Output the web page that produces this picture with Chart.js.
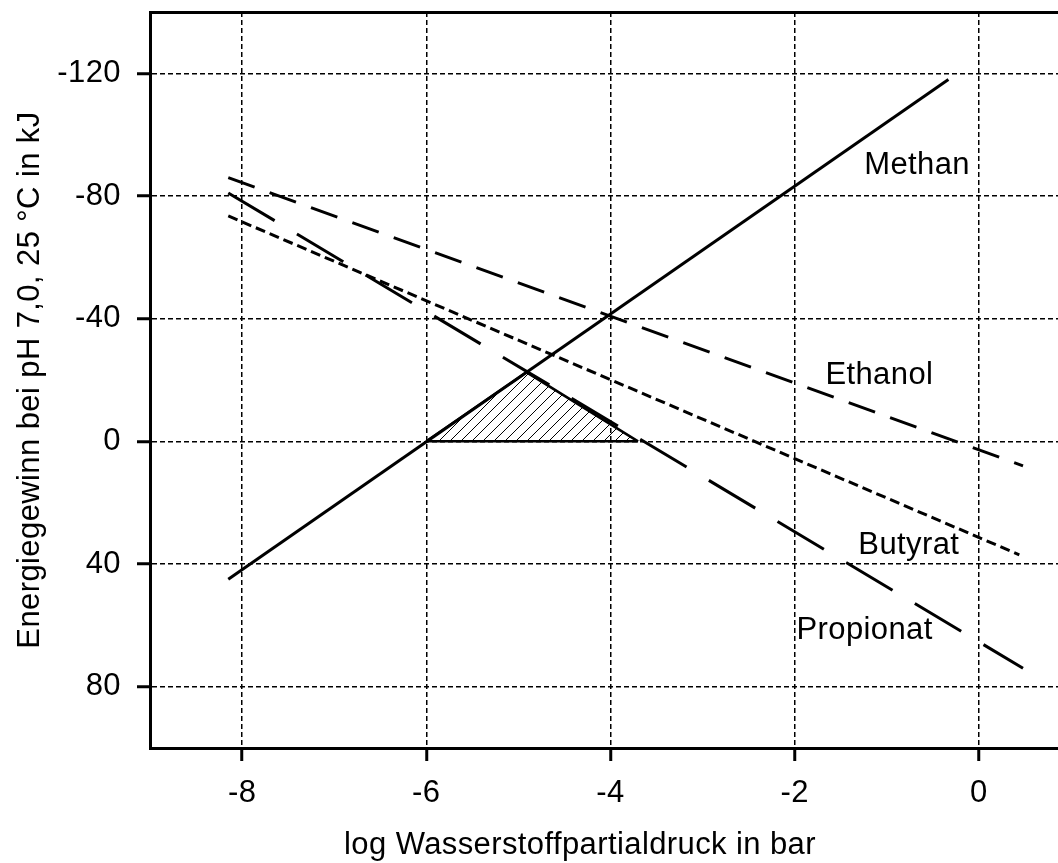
<!DOCTYPE html>
<html>
<head>
<meta charset="utf-8">
<script src="https://cdn.jsdelivr.net/npm/chart.js@4/dist/chart.umd.min.js"></script>
<style>
    html, body { margin: 0; padding: 0; background: #fff; }
    canvas { display: block; }
</style>
</head>
<body>
<canvas id="energyChart" width="1058" height="863"></canvas>
<script>
// x: log H2 partial pressure (bar), y: energy gain (kJ), start and end of each line
const methanX = [-8.15, -0.33];
const methanY = [45, -118];
const ethanolX = [-8.15, 0.48];
const ethanolY = [-86, 8];
const butyratX = [-8.15, 0.44];
const butyratY = [-73.5, 37];
const propionatX = [-8.15, 0.48];
const propionatY = [-81, 74];

// hatched window (methane + propionate both exergonic)
const windowX = [-6, -4.91, -3.7];
const windowY = [0, -22.5, 0];
const windowBaseX = [-6, -3.7];
const windowBaseY = [0, 0];

const xTicks = [-8, -6, -4, -2, 0];
const yTicks = [-120, -80, -40, 0, 40, 80];

const curveLabels = ['Methan', 'Ethanol', 'Butyrat', 'Propionat'];
const curveLabelX = [-0.67, -1.08, -0.76, -1.24];
const curveLabelY = [-89.8, -21.5, 33.8, 61.7];

const xTitle = 'log Wasserstoffpartialdruck in bar';
const yTitle = 'Energiegewinn bei pH 7,0, 25 °C in kJ';

const fontFamily = '"Liberation Sans", Arial, sans-serif';
const fontSize = 31;

function toPoints(xs, ys) {
    return xs.map((x, i) => ({ x: x, y: ys[i] }));
}

function hatchPattern() {
    const s = 11;
    const tile = document.createElement('canvas');
    tile.width = s;
    tile.height = s;
    const c = tile.getContext('2d');
    c.strokeStyle = '#000';
    c.lineWidth = 1;
    c.beginPath();
    c.moveTo(0, s); c.lineTo(s, 0);
    c.moveTo(-1, 1); c.lineTo(1, -1);
    c.moveTo(s - 1, s + 1); c.lineTo(s + 1, s - 1);
    c.stroke();
    return c.createPattern(tile, 'repeat');
}

function lineDataset(label, xs, ys, dash, width) {
    return {
        label,
        data: toPoints(xs, ys),
        borderColor: '#000',
        borderWidth: width || 3,
        borderDash: dash,
        pointRadius: 0,
        fill: false,
        tension: 0
    };
}

// the reference text runs a little wider than Liberation Sans
const letterSpacingPlugin = {
    id: 'letterSpacing',
    beforeDraw(chart) {
        chart.ctx.letterSpacing = '0.4px';
    }
};

const curveLabelPlugin = {
    id: 'curveLabels',
    afterDatasetsDraw(chart) {
        const { ctx, scales: { x, y } } = chart;
        ctx.save();
        ctx.font = fontSize + 'px ' + fontFamily;
        ctx.fillStyle = '#000';
        ctx.textAlign = 'center';
        ctx.textBaseline = 'middle';
        curveLabels.forEach((text, i) => {
            ctx.fillText(text, x.getPixelForValue(curveLabelX[i]), y.getPixelForValue(curveLabelY[i]));
        });
        // x title sits a bit left of the plot centre in the original
        const area = chart.chartArea;
        ctx.fillText(xTitle, (area.left + area.right) / 2 - 24, chart.height - 18);
        ctx.restore();
    }
};

const gridStyle = {
    color: '#000',
    lineWidth: 1.5,
    tickLength: 13,
    tickWidth: 3,
    tickColor: '#000',
    tickBorderDash: []
};
const borderStyle = { display: true, color: '#000', width: 3, dash: [5, 3] };
const tickFont = { family: fontFamily, size: fontSize };

const windowDataset = lineDataset('Fenster', windowX, windowY, [], 2.5);
windowDataset.backgroundColor = hatchPattern();
windowDataset.fill = 'origin';

new Chart(document.getElementById('energyChart'), {
    type: 'line',
    data: {
        datasets: [
            windowDataset,
            lineDataset('Fenster Basis', windowBaseX, windowBaseY, [], 2.5),
            lineDataset('Methan', methanX, methanY, []),
            lineDataset('Ethanol', ethanolX, ethanolY, [28, 16]),
            lineDataset('Butyrat', butyratX, butyratY, [10, 5]),
            lineDataset('Propionat', propionatX, propionatY, [54, 26])
        ]
    },
    options: {
        responsive: false,
        animation: false,
        devicePixelRatio: 1,
        layout: { padding: 0 },
        plugins: {
            legend: { display: false },
            tooltip: { enabled: false }
        },
        scales: {
            x: {
                type: 'linear',
                position: 'bottom',
                min: -9,
                max: 0.86,
                afterBuildTicks: s => { s.ticks = xTicks.map(v => ({ value: v })); },
                afterFit: s => { s.height = 115; s.paddingLeft = 0; s.paddingRight = 0; },
                ticks: { color: '#000', font: tickFont, padding: 14, maxRotation: 0, autoSkip: false, callback: v => String(v) },
                grid: gridStyle,
                border: borderStyle,
                title: { display: false }
            },
            xTop: {
                type: 'linear',
                axis: 'x',
                position: 'top',
                min: -9,
                max: 0.86,
                afterFit: s => { s.height = 12; s.paddingLeft = 0; s.paddingRight = 0; },
                ticks: { display: false },
                grid: { display: false },
                border: { display: true, color: '#000', width: 3 }
            },
            y: {
                type: 'linear',
                reverse: true,
                min: -140,
                max: 100,
                afterBuildTicks: s => { s.ticks = yTicks.map(v => ({ value: v })); },
                afterFit: s => { s.width = 150; s.paddingTop = 0; s.paddingBottom = 0; },
                ticks: { color: '#000', font: tickFont, padding: 16, callback: v => String(v) },
                grid: gridStyle,
                border: borderStyle,
                title: {
                    display: true,
                    text: yTitle,
                    color: '#000',
                    font: tickFont,
                    padding: { top: 12, bottom: 0 }
                }
            }
        }
    },
    plugins: [letterSpacingPlugin, curveLabelPlugin]
});
</script>
</body>
</html>
